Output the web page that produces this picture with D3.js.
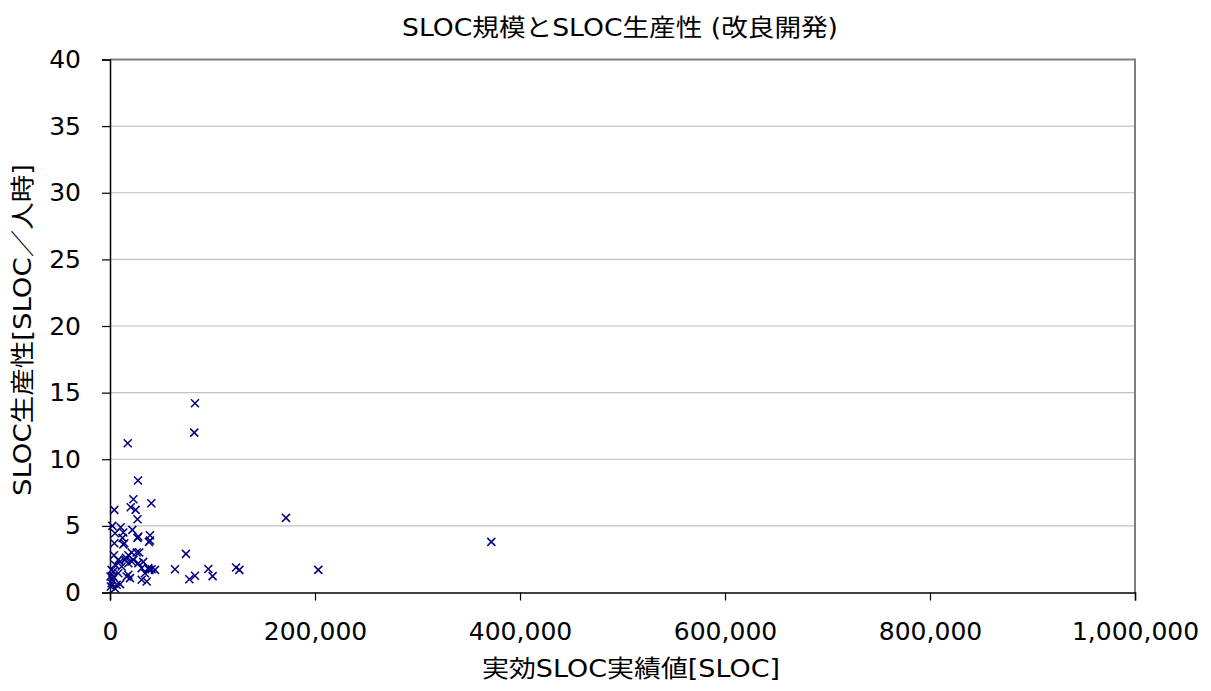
<!DOCTYPE html>
<html><head><meta charset="utf-8">
<script src="https://cdn.jsdelivr.net/npm/d3@7"></script>
<style>
body{margin:0;background:#fff;}
text{font-family:"DejaVu Sans","Noto Sans CJK JP",sans-serif;fill:#000;}
</style></head>
<body><svg id="c" width="1211" height="691"></svg>
<script>
const title = "SLOC規模とSLOC生産性 (改良開発)";
const xTitle = "実効SLOC実績値[SLOC]";
const yTitle = "SLOC生産性[SLOC／人時]";
const xTicks = [0, 200000, 400000, 600000, 800000, 1000000];
const yTicks = [0, 5, 10, 15, 20, 25, 30, 35, 40];
const slocValues = [82900,82200,17300,27300,22800,40300,20200,25000,4200,26800,171700,372000,2300,10400,21800,39000,26800,12200,38000,4200,14000,74100,28500,3900,21100,17900,15600,8100,22800,32400,
43900,63400,40600,95900,123000,126200,203200,77400,82900,100100,
26000,14600,21100,9800,4900,11400,17900,27600,30900,37400,1600,8100,16300,3200,30900,35800,19500,1600,6500,800,9800,4900,3200,17900,500,2300,38400,34100,13000,4900,27600,13000,39000];
const productivity = [14.2,12.0,11.2,8.4,7.0,6.7,6.4,6.2,6.2,5.5,5.6,3.8,5.0,4.9,4.7,4.3,4.1,4.1,3.8,3.7,3.7,2.9,3.0,2.8,3.0,2.8,2.6,2.45,2.45,2.3,
1.7,1.75,1.75,1.77,1.88,1.7,1.7,1.0,1.25,1.23,
3.0,2.45,2.33,2.33,2.08,1.95,2.2,2.2,1.83,1.83,1.7,1.45,1.2,1.2,0.95,0.83,1.08,0.7,0.58,0.45,0.63,0.3,1.58,1.33,1.2,0.95,1.7,1.45,4.5,4.45,4.2,3.6,3.9];

const svg = d3.select("#c");
const L=110, R=1135, T=59.5, B=592.5;
const x = d3.scaleLinear().domain([0,1000000]).range([L,R]);
const y = d3.scaleLinear().domain([0,40]).range([B,T]);

svg.append("g").selectAll("line").data(yTicks.filter(d=>d>0&&d<40)).join("line")
  .attr("x1",L).attr("x2",R).attr("y1",d=>y(d)).attr("y2",d=>y(d))
  .attr("stroke","#c0c0c0").attr("stroke-width",1.2);
svg.append("line").attr("x1",L).attr("x2",R+1).attr("y1",T).attr("y2",T).attr("stroke","#808080").attr("stroke-width",2);
svg.append("line").attr("x1",R).attr("x2",R).attr("y1",T).attr("y2",B).attr("stroke","#808080").attr("stroke-width",2);

const yAxis = d3.axisLeft(y).tickValues(yTicks).tickSize(8).tickPadding(21).tickFormat(d3.format("d"));
const gy = svg.append("g").attr("transform",`translate(${L},0)`).call(yAxis);
const xAxis = d3.axisBottom(x).tickValues(xTicks).tickSize(8).tickPadding(22).tickFormat(d3.format(","));
const gx = svg.append("g").attr("transform",`translate(0,${B})`).call(xAxis);
[gy,gx].forEach(g=>{
  g.select(".domain").attr("stroke","#000").attr("stroke-width",1.5);
  g.selectAll(".tick line").attr("stroke","#000").attr("stroke-width",1.2);
  g.selectAll(".tick text").attr("font-size",25).attr("font-family",'"DejaVu Sans",sans-serif').attr("fill","#000");
});

const pts = slocValues.map((v,i)=>({x:v,y:productivity[i]}));
const s=4;
svg.append("g").selectAll("path").data(pts).join("path")
  .attr("d",d=>{const cx=x(d.x), cy=y(d.y); return `M${cx-s},${cy-s}L${cx+s},${cy+s}M${cx-s},${cy+s}L${cx+s},${cy-s}`;})
  .attr("stroke","#000080").attr("stroke-width",1.5).attr("fill","none");

svg.append("text").attr("x",620).attr("y",36).attr("text-anchor","middle").attr("font-size",24)
  .attr("textLength",436).attr("lengthAdjust","spacingAndGlyphs").text(title);
svg.append("text").attr("x",631).attr("y",677).attr("text-anchor","middle").attr("font-size",24)
  .attr("textLength",298).attr("lengthAdjust","spacingAndGlyphs").text(xTitle);
svg.append("text").attr("transform","translate(31,330) rotate(-90)").attr("text-anchor","middle").attr("font-size",24)
  .attr("textLength",332).attr("lengthAdjust","spacingAndGlyphs").text(yTitle);
</script></body></html>
